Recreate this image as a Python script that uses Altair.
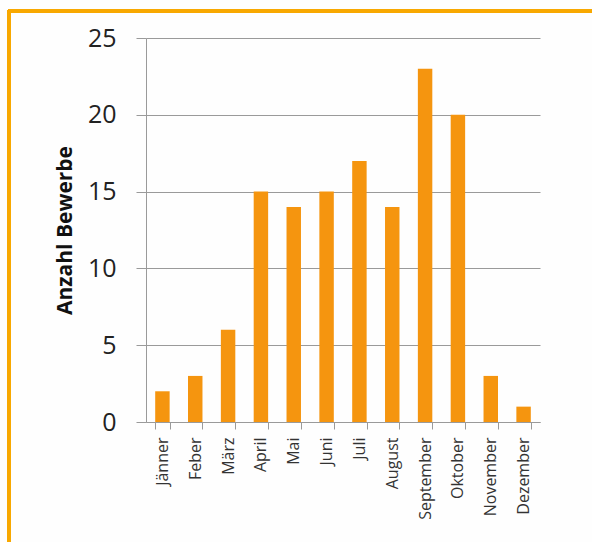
import altair as alt
import pandas as pd

months = ["Jänner", "Feber", "März", "April", "Mai", "Juni", "Juli",
          "August", "September", "Oktober", "November", "Dezember"]
counts = [2, 3, 6, 15, 14, 15, 17, 14, 23, 20, 3, 1]
y_ticks = [0, 5, 10, 15, 20, 25]

df = pd.DataFrame({"Monat": months, "Anzahl": counts})

FONT = "Open Sans"
ORANGE = "#F5950F"
FRAME = "#F8A800"

bars = alt.Chart(df).mark_bar(color=ORANGE).encode(
    x=alt.X("Monat:N", sort=months,
            scale=alt.Scale(paddingInner=0.56, paddingOuter=0.28),
            axis=alt.Axis(title=None, labelAngle=-90, labelFont=FONT,
                          labelFontSize=16, labelColor="#333333",
                          labelPadding=8, tickSize=7, tickColor="#9a9a9a",
                          domainColor="#9a9a9a", tickBand="extent",
                          grid=False)),
    y=alt.Y("Anzahl:Q", scale=alt.Scale(domain=[0, 25], nice=False),
            axis=alt.Axis(title="Anzahl Bewerbe", values=y_ticks,
                          titleFont=FONT, titleFontSize=21,
                          titleFontWeight="bold", titleColor="#111111",
                          titlePadding=12,
                          labelFont=FONT, labelFontSize=25,
                          labelColor="#222222", labelPadding=20,
                          tickSize=10, tickColor="#9a9a9a",
                          domainColor="#9a9a9a", gridColor="#9a9a9a",
                          gridWidth=1.2)),
)

frame_top = alt.Chart(df).mark_rule(color=FRAME, strokeWidth=3).encode(
    x=alt.value(-138), x2=alt.value(460), y=alt.value(-27))
frame_left = alt.Chart(df).mark_rule(color=FRAME, strokeWidth=3).encode(
    x=alt.value(-137), y=alt.value(-28), y2=alt.value(520))

chart = alt.layer(bars, frame_top, frame_left).properties(
    width=394, height=384,
    autosize=alt.AutoSizeParams(type="none"),
    padding={"left": 146, "top": 38, "right": 52, "bottom": 120},
    background="#fefefe",
).configure_view(stroke=None)

chart.save("out.html", embed_options={"renderer": "svg", "actions": False})
